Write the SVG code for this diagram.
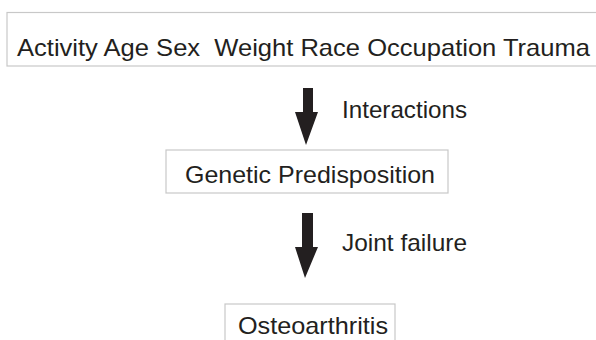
<svg xmlns="http://www.w3.org/2000/svg" width="596" height="340" viewBox="0 0 596 340">
<style>
.box{fill:#ffffff;stroke:#c8c8c8;stroke-width:1.2}
.t{font-family:"Liberation Sans",Arial,sans-serif;font-size:24px;fill:#231f20;white-space:pre}
.arr{fill:#231f20}
</style>
<rect width="596" height="340" fill="#ffffff"/>
<g id="factors">
<rect class="box" x="7" y="12.5" width="600" height="53.5"/>
<text class="t" x="17" y="56" textLength="573" lengthAdjust="spacingAndGlyphs" xml:space="preserve">Activity Age Sex  Weight Race Occupation Trauma</text>
</g>
<g id="genetic">
<rect class="box" x="166" y="150" width="282" height="43"/>
<text class="t" x="185" y="183" textLength="250" lengthAdjust="spacingAndGlyphs">Genetic Predisposition</text>
</g>
<g id="oa">
<rect class="box" x="225" y="304" width="170" height="40"/>
<text class="t" x="238" y="334" textLength="150" lengthAdjust="spacingAndGlyphs">Osteoarthritis</text>
</g>
<g id="connectors">
<polygon class="arr" points="303,88 313,88 313,112 318,112 306,145 295,112 303,112"/>
<text class="t" x="342" y="118" textLength="125" lengthAdjust="spacingAndGlyphs">Interactions</text>
<polygon class="arr" points="302,213 313,213 313,247 318,247 305,278 295,247 302,247"/>
<text class="t" x="342" y="251" textLength="125" lengthAdjust="spacingAndGlyphs">Joint failure</text>
</g>
</svg>
